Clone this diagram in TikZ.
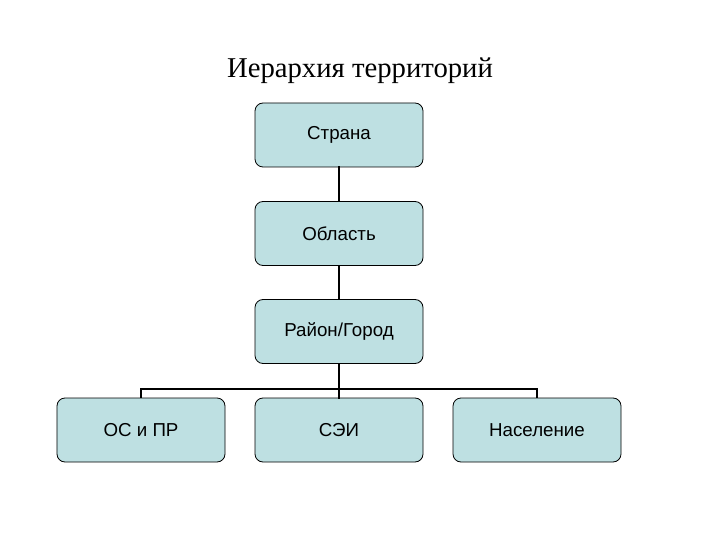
\documentclass[tikz,border=0pt]{standalone}
\usepackage{fontspec}
\setmainfont{Liberation Serif}
\setsansfont{Liberation Sans}
\definecolor{boxfill}{RGB}{190,224,226}
\tikzset{
  unitbox/.style={draw=black, line width=0.8pt, fill=boxfill, rounded corners=8bp,
    minimum width=168bp, minimum height=64bp, inner sep=0pt,
    font=\sffamily\fontsize{18.8}{22}\selectfont},
  link/.style={line width=2.6pt, line cap=rect}
}
\begin{document}
\begin{tikzpicture}[x=1bp, y=-1bp]
	% page frame
	\useasboundingbox (0,0) rectangle (720,540);
	
	% title
	\node[font=\fontsize{28.8}{32}\selectfont, anchor=base] (title) at (360,78) {Иерархия территорий};
	
	% hierarchy boxes
	\node[unitbox] (country) at (339,135) {Страна};
	\node[unitbox] (region) at (339,233.5) {Область};
	\node[unitbox] (district) at (339,331.5) {Район/Город};
	
	\node[unitbox] (nature) at (141,430) {ОС и ПР};
	\node[unitbox] (sei) at (339,430) {СЭИ};
	\node[unitbox] (people) at (537,430) {Население};
	
	% connectors
	\coordinate (bus) at (339,389);
	\draw[link] (country.south) -- (region.north);
	\draw[link] (region.south) -- (district.north);
	\draw[link] (district.south) -- (sei.north);
	\draw[line width=2.2pt] (nature.north) |- (bus) -| (people.north);
\end{tikzpicture}
\end{document}
